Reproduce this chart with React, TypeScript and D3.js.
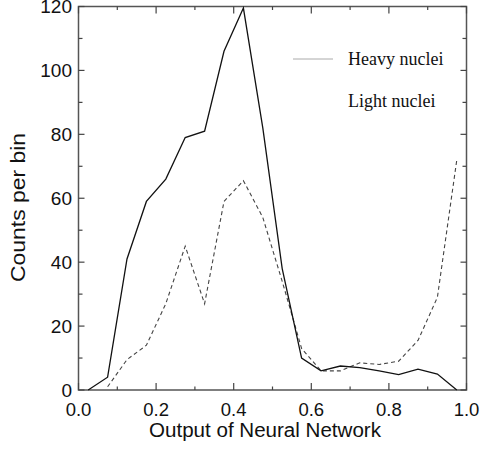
import React from "react";
import * as d3 from "d3";

// bin centres of the network output histogram
const binCenters = [
  0.025, 0.075, 0.125, 0.175, 0.225, 0.275, 0.325, 0.375, 0.425, 0.475,
  0.525, 0.575, 0.625, 0.675, 0.725, 0.775, 0.825, 0.875, 0.925, 0.975,
];

// solid curve
const heavyCounts = [
  0, 4, 41, 59, 66, 79, 81, 106, 119.5, 82, 38, 10, 6, 7.5, 7, 6, 4.8, 6.5, 5, 0,
];

// dashed curve (no entry in first bin)
const lightCounts: (number | null)[] = [
  null, 1, 9.5, 14, 27, 45, 27, 59, 65.5, 54, 34, 13, 6, 6, 8.5, 8, 9, 15.5, 29, 72,
];

const xTickLabels = ["0.0", "0.2", "0.4", "0.6", "0.8", "1.0"];
const yTickValues = [0, 20, 40, 60, 80, 100, 120];

const legendItems = ["Heavy nuclei", "Light nuclei"];

const W = 480;
const H = 451;
const margin = { top: 6.5, right: 13.5, bottom: 61, left: 78.5 };

export default function App() {
  const x = d3.scaleLinear().domain([0, 1]).range([margin.left, W - margin.right]);
  const y = d3.scaleLinear().domain([0, 120]).range([H - margin.bottom, margin.top]);

  const x0 = x.range()[0];
  const x1 = x.range()[1];
  const y0 = y.range()[0];
  const y1 = y.range()[1];

  const line = d3
    .line<[number, number | null]>()
    .defined((d) => d[1] !== null)
    .x((d) => x(d[0]))
    .y((d) => y(d[1] as number));

  const heavyPts = binCenters.map((c, i) => [c, heavyCounts[i]] as [number, number | null]);
  const lightPts = binCenters.map((c, i) => [c, lightCounts[i]] as [number, number | null]);

  const xMinor = d3.range(0, 1.0001, 0.1);
  const yMinor = d3.range(0, 120.001, 10);
  const sans = "'Liberation Sans', Arial, Helvetica, sans-serif";
  const serif = "'Liberation Serif', 'Times New Roman', serif";

  return (
    <svg
      width={W}
      height={H}
      style={{ position: "absolute", left: 0, top: 0, background: "#fff" }}
    >
      {/* frame */}
      <rect
        x={x0}
        y={y1}
        width={x1 - x0}
        height={y0 - y1}
        fill="none"
        stroke="#555"
        strokeWidth={1.5}
      />

      {/* x ticks, bottom and top, pointing inward */}
      {xMinor.map((v, i) => {
        const len = i % 2 === 0 ? 7 : 3.5;
        return (
          <g key={"xt" + i} stroke="#444" strokeWidth={1.2}>
            <line x1={x(v)} x2={x(v)} y1={y0} y2={y0 - len} />
            <line x1={x(v)} x2={x(v)} y1={y1} y2={y1 + len} />
          </g>
        );
      })}

      {/* y ticks, left and right */}
      {yMinor.map((v, i) => {
        const len = i % 2 === 0 ? 6 : 4;
        return (
          <g key={"yt" + i} stroke="#444" strokeWidth={1.2}>
            <line x1={x0} x2={x0 + len} y1={y(v)} y2={y(v)} />
            <line x1={x1} x2={x1 - len} y1={y(v)} y2={y(v)} />
          </g>
        );
      })}

      {/* tick labels */}
      {xTickLabels.map((t, i) => (
        <text
          key={"xl" + i}
          x={x(i * 0.2)}
          y={416}
          textAnchor="middle"
          fontFamily={sans}
          fontSize={18.5}
          fill="#111"
        >
          {t}
        </text>
      ))}
      {yTickValues.map((v) => (
        <text
          key={"yl" + v}
          x={x0 - 6.5}
          y={y(v)}
          dy="0.36em"
          textAnchor="end"
          fontFamily={sans}
          fontSize={19}
          fill="#111"
        >
          {v}
        </text>
      ))}

      {/* axis titles */}
      <text
        x={265}
        y={437}
        textAnchor="middle"
        fontFamily={sans}
        fontSize={19.5}
        textLength={232}
        lengthAdjust="spacingAndGlyphs"
        fill="#111"
      >
        Output of Neural Network
      </text>
      <text
        transform="translate(25,207.5) rotate(-90)"
        textAnchor="middle"
        fontFamily={sans}
        fontSize={21}
        textLength={149}
        lengthAdjust="spacingAndGlyphs"
        fill="#111"
      >
        Counts per bin
      </text>

      {/* curves */}
      <path d={line(lightPts) || ""} fill="none" stroke="#444" strokeWidth={1.1} strokeDasharray="4,3" />
      <path d={line(heavyPts) || ""} fill="none" stroke="#111" strokeWidth={1.3} />

      {/* legend */}
      <line x1={293} x2={333} y1={59} y2={59} stroke="#aaa" strokeWidth={1} />
      {legendItems.map((t, i) => (
        <text
          key={t}
          x={348}
          y={65 + i * 42}
          fontFamily={serif}
          fontSize={18}
          fill="#111"
        >
          {t}
        </text>
      ))}
    </svg>
  );
}
